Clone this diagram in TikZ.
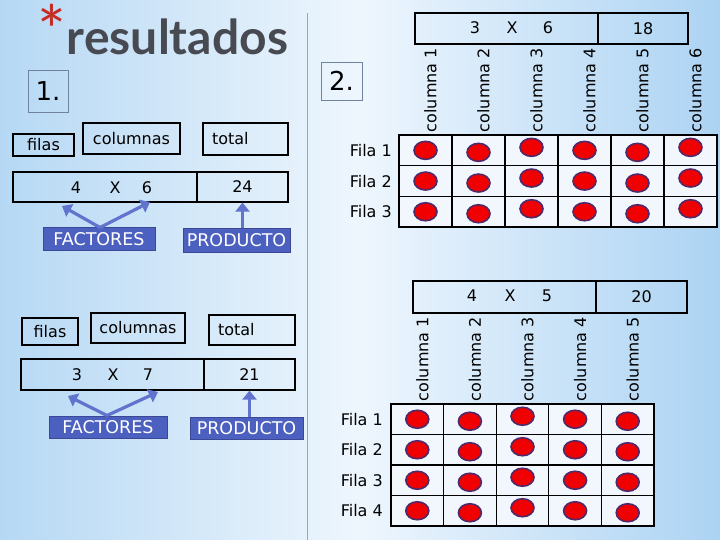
\documentclass[tikz,border=0pt]{standalone}
\usepackage{fontspec}
\setmainfont{DejaVu Sans}
\newfontfamily\titlefont{Lato}
\usetikzlibrary{positioning,arrows.meta}

\definecolor{bgblue}{RGB}{182,216,244}
\definecolor{bgblueR}{RGB}{172,211,243}
\definecolor{bgwhite}{RGB}{238,246,253}
\definecolor{cellfill}{RGB}{242,247,253}
\definecolor{tagblue}{RGB}{76,96,192}
\definecolor{tagedge}{RGB}{60,72,150}
\definecolor{arrowblue}{RGB}{96,116,206}
\definecolor{dotred}{RGB}{240,0,0}
\definecolor{dotedge}{RGB}{78,42,108}
\definecolor{titlegray}{RGB}{72,74,82}
\definecolor{starred}{RGB}{200,42,36}
\definecolor{numedge}{RGB}{112,130,160}
\definecolor{divider}{RGB}{150,165,186}

\tikzset{
  wordbox/.style={draw=black,line width=1.2pt,inner sep=0pt,font=\fontsize{16}{18}\selectfont},
  rowbox/.style={draw=black,line width=1.2pt,inner sep=0pt,minimum height=30pt,font=\fontsize{16}{18}\selectfont},
  tagbox/.style={draw=tagedge,fill=tagblue,line width=1pt,text=white,inner sep=0pt,font=\fontsize{17.5}{18}\selectfont},
  numbox/.style={draw=numedge,line width=0.8pt,inner sep=0pt,font=\fontsize{26}{28}\selectfont},
  pointer/.style={draw=arrowblue,line width=3.2pt,-{Triangle[length=9pt,width=14pt]}},
  dot/.style={fill=dotred,draw=dotedge,line width=1.6pt},
  plain/.style={font=\fontsize{16}{18}\selectfont,inner sep=0pt},
  collabel/.style={plain,rotate=90,anchor=east},
  cellline/.style={draw=black,line width=1.2pt},
}

\def\gridLeftA{399}
\def\gridTopA{135}
\def\cellWidthA{53}
\def\cellHeightA{30.7}
\def\gridLeftB{391}
\def\gridTopB{404}
\def\cellWidthB{52.6}
\def\cellHeightB{30.5}

\begin{document}
\begin{tikzpicture}[x=1pt,y=-1pt]
    \useasboundingbox (0,0) rectangle (720,540);
    \shade[left color=bgblue,right color=bgblueR,middle color=bgwhite] (0,0) rectangle (720,540);

    \node[text=starred,font=\titlefont\fontsize{68}{68}\selectfont,inner sep=0pt] (star) at (52,29.5) {*};
    \node[text=titlegray,font=\titlefont\bfseries\fontsize{48}{52}\selectfont,inner sep=0pt] (title) at (177.5,37) {resultados};
    \draw[divider,line width=0.8pt] (307,13) -- (307,540);

    \node[numbox,minimum width=40pt,minimum height=42pt] (one) at (48,91) {1.};
    \node[numbox,minimum width=41pt,minimum height=38pt] (two) at (341.5,81) {2.};

    \node[wordbox,minimum width=61pt,minimum height=22pt] (filasA) at (43.5,145) {filas};
    \node[wordbox,minimum width=97pt,minimum height=31pt] (columnasA) at (131.5,138.5) {columnas};
    \node[wordbox,minimum height=32pt,text width=67pt,inner xsep=9pt,align=left] (totalA) at (245.5,139) {total};
    \node[rowbox,minimum width=184pt] (factorsA) at (105,187) {};
    \node[rowbox,minimum width=91pt] (productA) at (242.5,187) {24};
    \foreach \n/\x/\t in {rows/76/4,times/115/X,cols/147/6} {
      \node[plain] (a\n) at (\x,188) {\t};
    }
    \node[tagbox,minimum width=112pt,minimum height=22pt] (factA) at (99,239) {FACTORES};
    \node[tagbox,minimum width=107pt,minimum height=23pt] (prodA) at (236.5,240.5) {PRODUCTO};
    \coordinate (aRowsTip) at (62,206);
    \coordinate (aColsTip) at (150,202);
    \draw[pointer] ([xshift=1pt]factA.north) -- (aRowsTip);
    \draw[pointer] ([xshift=1pt]factA.north) -- (aColsTip);
    \draw[pointer] (prodA.north -| productA.south) -- (productA.south);

    \node[wordbox,minimum width=56pt,minimum height=27pt] (filasB) at (50,331.5) {filas};
    \node[wordbox,minimum width=94pt,minimum height=30pt] (columnasB) at (138,328) {columnas};
    \node[wordbox,minimum height=30pt,text width=68pt,inner xsep=9pt,align=left] (totalB) at (252,330) {total};
    \node[rowbox,minimum width=183pt,minimum height=31pt] (factorsB) at (112.5,374.5) {};
    \node[rowbox,minimum width=91pt,minimum height=31pt] (productB) at (249.5,374.5) {21};
    \foreach \n/\x/\t in {rows/77/3,times/113/X,cols/148/7} {
      \node[plain] (b\n) at (\x,375) {\t};
    }
    \node[tagbox,minimum width=118pt,minimum height=22pt] (factB) at (108,427) {FACTORES};
    \node[tagbox,minimum width=113pt,minimum height=22pt] (prodB) at (246.5,428) {PRODUCTO};
    \coordinate (bRowsTip) at (68,396);
    \coordinate (bColsTip) at (158,392);
    \draw[pointer] ([xshift=-1pt]factB.north) -- (bRowsTip);
    \draw[pointer] ([xshift=-1pt]factB.north) -- (bColsTip);
    \draw[pointer] (prodB.north -| productB.south) -- (productB.south);

    \node[rowbox,minimum width=183pt,minimum height=31pt] (factorsC) at (506.5,28.5) {};
    \node[rowbox,minimum width=90pt,minimum height=31pt] (productC) at (643,28.5) {18};
    \foreach \n/\x/\t in {rows/475/3,times/512/X,cols/548/6} {
      \node[plain] (c\n) at (\x,28) {\t};
    }
    \fill[cellfill] (\gridLeftA,\gridTopA) rectangle ++(6*\cellWidthA,3*\cellHeightA);
    \draw[cellline] (\gridLeftA,\gridTopA) rectangle ++(6*\cellWidthA,3*\cellHeightA);
    \foreach \i in {1,...,5} {
      \draw[cellline] (\gridLeftA+\i*\cellWidthA,\gridTopA) -- ++(0,3*\cellHeightA);
    }
    \foreach \j in {1,2} {
      \draw[cellline] (\gridLeftA,\gridTopA+\j*\cellHeightA) -- ++(6*\cellWidthA,0);
    }
    \foreach \i in {1,...,6} {
      \node[collabel] (colA\i) at (\gridLeftA+\i*\cellWidthA-0.5*\cellWidthA+5,48) {columna \i};
    }
    \foreach \j in {1,2,3} {
      \node[plain,anchor=east] (filaA\j) at (\gridLeftA-7,\gridTopA+\j*\cellHeightA-0.5*\cellHeightA) {Fila \j};
    }
    \foreach \i/\dy in {1/0,2/2,3/-3,4/0,5/2,6/-3} {
      \foreach \j in {1,2,3} {
        \draw[dot] (\gridLeftA+\i*\cellWidthA-0.5*\cellWidthA,\gridTopA+\j*\cellHeightA-0.5*\cellHeightA+\dy) ellipse (11.5 and 9);
      }
    }

    \node[rowbox,minimum width=183pt,minimum height=32pt] (factorsD) at (504.5,297) {};
    \node[rowbox,minimum width=91pt,minimum height=32pt] (productD) at (641.5,297) {20};
    \foreach \n/\x/\t in {rows/472/4,times/510/X,cols/547/5} {
      \node[plain] (d\n) at (\x,296) {\t};
    }
    \fill[cellfill] (\gridLeftB,\gridTopB) rectangle ++(5*\cellWidthB,4*\cellHeightB);
    \draw[cellline] (\gridLeftB,\gridTopB) rectangle ++(5*\cellWidthB,4*\cellHeightB);
    \foreach \i in {1,...,4} {
      \draw[cellline] (\gridLeftB+\i*\cellWidthB,\gridTopB) -- ++(0,4*\cellHeightB);
    }
    \foreach \j in {1,2,3} {
      \draw[cellline] (\gridLeftB,\gridTopB+\j*\cellHeightB) -- ++(5*\cellWidthB,0);
    }
    \foreach \i in {1,...,5} {
      \node[collabel] (colB\i) at (\gridLeftB+\i*\cellWidthB-0.5*\cellWidthB+5,317) {columna \i};
    }
    \foreach \j in {1,2,3,4} {
      \node[plain,anchor=east] (filaB\j) at (\gridLeftB-8,\gridTopB+\j*\cellHeightB-0.5*\cellHeightB) {Fila \j};
    }
    \foreach \i/\dy in {1/0,2/2,3/-3,4/0,5/2} {
      \foreach \j in {1,2,3,4} {
        \draw[dot] (\gridLeftB+\i*\cellWidthB-0.5*\cellWidthB,\gridTopB+\j*\cellHeightB-0.5*\cellHeightB+\dy) ellipse (11.5 and 9);
      }
    }
  \end{tikzpicture}
\end{document}
